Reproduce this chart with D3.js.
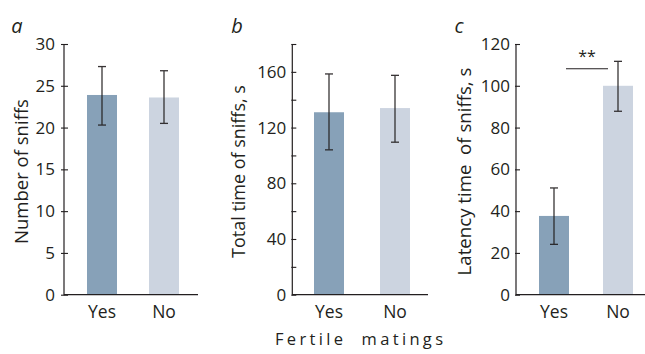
<!DOCTYPE html>
<html>
<head>
<meta charset="utf-8">
<script src="https://cdn.jsdelivr.net/npm/d3@7"></script>
<style>
body{margin:0;background:#fff;}
svg text{font-family:"Open Sans",sans-serif;fill:#231f20;}
</style>
</head>
<body>
<svg id="chart" width="645" height="354"></svg>
<script>
const categories = ["Yes", "No"];
const panelLetters = ["a", "b", "c"];
const yLabels = ["Number of sniffs", "Total time of sniffs, s", "Latency time  of sniffs, s"];
const xTitle = "Fertile  matings";

const sniffCount = [23.9, 23.6];
const sniffCountLow = [20.3, 20.5];
const sniffCountHigh = [27.3, 26.8];

const totalTime = [131, 134];
const totalTimeLow = [104, 109.5];
const totalTimeHigh = [158.5, 157.5];

const latency = [37.7, 100];
const latencyLow = [24.1, 87.8];
const latencyHigh = [51.1, 111.7];

const ticksA = [0, 5, 10, 15, 20, 25, 30];
const ticksB = [0, 20, 40, 60, 80, 100, 120, 140, 160, 180];
const tickLabelsB = [0, 40, 80, 120, 160];
const ticksC = [0, 20, 40, 60, 80, 100, 120];
const significance = "**";

const barColors = ["#87a1b8", "#ccd4e0"];
const ink = "#231f20";

const svg = d3.select("#chart");
const plotTop = 44, plotBottom = 294.7;

const panels = [
  {x0: 64, x1: 198, max: 30, ticks: ticksA, labels: ticksA, vals: sniffCount, lo: sniffCountLow, hi: sniffCountHigh,
   bars: [[87,117],[149,179]], letterX: 17, labelX: 20, labelLen: 145, tickGap: 9},
  {x0: 292.3, x1: 428, max: 180, ticks: ticksB, labels: tickLabelsB, vals: totalTime, lo: totalTimeLow, hi: totalTimeHigh,
   bars: [[314,344],[380,410]], letterX: 237, labelX: 238, labelLen: 173, tickGap: 6},
  {x0: 516, x1: 645, max: 120, ticks: ticksC, labels: ticksC, vals: latency, lo: latencyLow, hi: latencyHigh,
   bars: [[539,569],[603,633]], letterX: 459, labelX: 463, labelLen: 208, tickGap: 6}
];

panels.forEach((p, i) => {
  const y = d3.scaleLinear().domain([0, p.max]).range([plotBottom, plotTop]);
  const barW = p.bars[0][1] - p.bars[0][0];
  const step = p.bars[1][0] - p.bars[0][0];
  const pad = (step - barW) / step;
  const x = d3.scaleBand().domain(categories)
    .range([p.bars[0][0] - (step - barW)/2, p.bars[1][1] + (step - barW)/2])
    .paddingInner(pad).paddingOuter(pad/2);
  const g = svg.append("g");

  // bars
  g.selectAll("rect").data(categories).join("rect")
    .attr("x", d => x(d)).attr("width", x.bandwidth())
    .attr("y", (d, k) => y(p.vals[k])).attr("height", (d, k) => y(0) - y(p.vals[k]))
    .attr("fill", (d, k) => barColors[k]);

  // error bars
  categories.forEach((c, k) => {
    const cx = x(c) + x.bandwidth()/2;
    const eg = g.append("g").attr("stroke", ink).attr("stroke-width", 1.3).attr("opacity", 0.9);
    eg.append("line").attr("x1", cx).attr("x2", cx).attr("y1", y(p.hi[k])).attr("y2", y(p.lo[k]));
    eg.append("line").attr("x1", cx - 4).attr("x2", cx + 4).attr("y1", y(p.hi[k])).attr("y2", y(p.hi[k]));
    eg.append("line").attr("x1", cx - 4).attr("x2", cx + 4).attr("y1", y(p.lo[k])).attr("y2", y(p.lo[k]));
  });

  // y axis
  const ax = g.append("g").attr("transform", `translate(${p.x0},0)`)
    .call(d3.axisLeft(y).tickValues(p.ticks).tickSize(0).tickPadding(p.tickGap)
      .tickFormat(v => p.labels.includes(v) ? v : ""));
  ax.select(".domain").remove();
  ax.selectAll("text").attr("font-size", 17).attr("font-family", "Open Sans").attr("fill", ink);
  ax.selectAll(".tick").append("line")
    .attr("x1", i === 0 ? -3 : -1).attr("x2", 4).attr("stroke", ink).attr("stroke-width", 1.1);
  g.append("line").attr("x1", p.x0).attr("x2", p.x0).attr("y1", plotTop).attr("y2", plotBottom + 0.5)
    .attr("stroke", ink).attr("stroke-width", 1.2);

  // x axis
  g.append("line").attr("x1", p.x0).attr("x2", p.x1).attr("y1", plotBottom).attr("y2", plotBottom)
    .attr("stroke", ink).attr("stroke-width", 1.2);
  const xa = g.append("g").attr("transform", `translate(0,${plotBottom})`)
    .call(d3.axisBottom(x).tickSize(0).tickPadding(11));
  xa.select(".domain").remove();
  xa.selectAll("text").attr("font-size", 17.5).attr("font-family", "Open Sans").attr("fill", ink);

  // y label
  const yl = g.append("text")
    .attr("transform", `translate(${p.labelX},${171.5}) rotate(-90)`)
    .attr("text-anchor", "middle").attr("dominant-baseline", "central")
    .attr("font-size", 16).style("white-space", "pre")
    .text(yLabels[i]);
  const len = yl.node().getComputedTextLength();
  yl.attr("font-size", 16 * p.labelLen / len);

  // panel letter
  g.append("text").attr("x", p.letterX).attr("y", 33)
    .attr("font-size", 20).attr("font-style", "italic").attr("text-anchor", "middle")
    .text(panelLetters[i]);

  if (i === 2) {
    const x1 = x("Yes") + x.bandwidth()/2 + 12;
    const x2 = x("No") + x.bandwidth()/2 - 10;
    g.append("line").attr("x1", x1).attr("x2", x2).attr("y1", 68.7).attr("y2", 68.7)
      .attr("stroke", ink).attr("stroke-width", 1.1);
    g.append("text").attr("x", (x1 + x2)/2).attr("y", 61.5)
      .attr("text-anchor", "middle").attr("font-size", 16).attr("fill", "#444").text(significance);
  }
});

svg.append("text").attr("x", 359).attr("y", 345).attr("text-anchor", "middle")
  .attr("font-size", 16.5).attr("textLength", 168).attr("lengthAdjust", "spacing")
  .style("white-space", "pre").text(xTitle);
</script>
</body>
</html>
